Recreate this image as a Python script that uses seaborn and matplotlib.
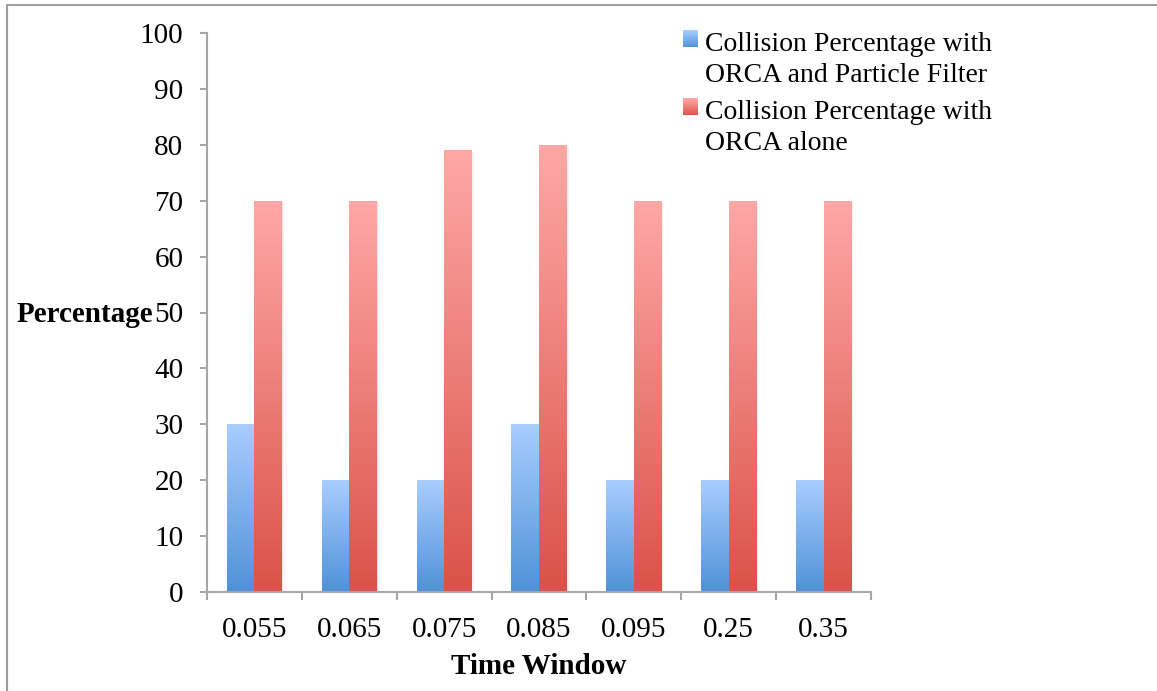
import numpy as np
import pandas as pd
import matplotlib
matplotlib.use("Agg")
import matplotlib.pyplot as plt
import seaborn as sns
from matplotlib.colors import LinearSegmentedColormap, to_rgb
from matplotlib.patches import Rectangle
from matplotlib.legend_handler import HandlerBase
from matplotlib.lines import Line2D
import matplotlib.patheffects as pe

# ---- data ----
categories = ["0.055", "0.065", "0.075", "0.085", "0.095", "0.25", "0.35"]
series_names = ["Collision Percentage with\nORCA and Particle Filter",
                "Collision Percentage with\nORCA alone"]
pf_values = [30, 20, 20, 30, 20, 20, 20]
orca_values = [70, 70, 79, 80, 70, 70, 70]
y_ticks = [0, 10, 20, 30, 40, 50, 60, 70, 80, 90, 100]

# gradient colours (top, bottom)
grads = [("#A9CDFF", "#4F92D8"), ("#FFA8A6", "#DA5249")]

df = pd.DataFrame({
    "Time Window": categories * 2,
    "value": pf_values + orca_values,
    "series": [series_names[0]] * len(categories) + [series_names[1]] * len(categories),
})

sns.set_theme(style="white")
plt.rcParams["font.family"] = ["Liberation Serif", "DejaVu Serif"]
plt.rcParams["text.color"] = "black"
plt.rcParams["axes.labelcolor"] = "black"
FS = 21
LFS = 20

W, H = 1157, 691
fig = plt.figure(figsize=(W / 100, H / 100), dpi=100)
ax = fig.add_axes([207 / W, 1 - 592 / H, (871 - 207) / W, (592 - 33) / H])

mid_cols = []
for t, b in grads:
    mid_cols.append(tuple((np.array(to_rgb(t)) + np.array(to_rgb(b))) / 2))

sns.barplot(data=df, x="Time Window", y="value", hue="series", order=categories,
            hue_order=series_names, palette=mid_cols, width=0.58, ax=ax,
            saturation=1, legend=False)

grad_arr = np.linspace(0, 1, 256).reshape(-1, 1)
for cont, (top, bot) in zip(ax.containers, grads):
    cmap = LinearSegmentedColormap.from_list("g", [bot, top])
    for p in cont.patches:
        x0, y0 = p.get_x(), p.get_y()
        w, h = p.get_width(), p.get_height()
        p.set_edgecolor("none")
        p.set_path_effects([
            pe.SimplePatchShadow(offset=(1.5, -1.0), shadow_rgbFace="#999999", alpha=0.12),
            pe.SimplePatchShadow(offset=(0.6, -0.4), shadow_rgbFace="#999999", alpha=0.12),
            pe.Normal()])
        im = ax.imshow(grad_arr, extent=[x0, x0 + w, y0, y0 + h], origin="lower",
                       aspect="auto", cmap=cmap, zorder=p.get_zorder() + 0.1,
                       interpolation="bilinear")
        im.set_clip_path(p)

ax.set_xlim(-0.5, len(categories) - 0.5)
ax.set_ylim(0, 100)
ax.set_yticks(y_ticks)
ax.set_yticklabels([str(v) for v in y_ticks], fontsize=FS)
ax.set_xticks(range(len(categories)))
ax.set_xticklabels(categories, fontsize=FS)
ax.set_xticks(np.arange(-0.5, len(categories), 1.0), minor=True)

spine_col = "#A6A6A6"
for s in ["top", "right"]:
    ax.spines[s].set_visible(False)
for s in ["left", "bottom"]:
    ax.spines[s].set_color(spine_col)
    ax.spines[s].set_linewidth(1.5)

ax.tick_params(axis="y", which="major", direction="out", length=5, width=1.5,
               color=spine_col, pad=12, left=True, labelcolor="black")
ax.tick_params(axis="x", which="major", length=0, pad=18, labelcolor="black")
ax.tick_params(axis="x", which="minor", direction="out", length=6, width=1.5,
               color=spine_col, bottom=True)

ax.set_ylabel("Percentage", fontsize=FS, fontweight="bold", rotation=0,
              ha="left", va="center", color="black")
ax.yaxis.set_label_coords((17 - 207) / (871 - 207), (592 - 315) / (592 - 33))
ax.set_xlabel("Time Window", fontsize=FS, fontweight="bold", va="center", color="black")
ax.xaxis.set_label_coords(0.5, (592 - 667) / (592 - 33))
ax.grid(False)


class GradHandler(HandlerBase):
    def __init__(self, top, bot, lift):
        super().__init__()
        self.top, self.bot = to_rgb(top), to_rgb(bot)
        self.lift = lift

    def create_artists(self, legend, orig_handle, xdescent, ydescent, width, height,
                       fontsize, trans):
        n = 20
        arts = []
        t, b = np.array(self.top), np.array(self.bot)
        for i in range(n):
            f = (i + 0.5) / n
            c = b + (t - b) * f
            r = Rectangle((-xdescent, -ydescent + self.lift + height * i / n), width,
                          height / n + 0.05, facecolor=c, edgecolor="none", transform=trans)
            arts.append(r)
        return arts


LIFT = 15.0
handles = [Rectangle((0, 0), 1, 1) for _ in series_names]
leg = fig.legend(handles, series_names, loc="upper left",
                 bbox_to_anchor=(658 / W, 1 - 7 / H), frameon=False, fontsize=LFS,
                 handlelength=0.55, handleheight=0.55, handletextpad=0.25,
                 labelspacing=0.45,
                 handler_map={handles[0]: GradHandler(*grads[0], LIFT),
                              handles[1]: GradHandler(*grads[1], LIFT)})
for t in leg.get_texts():
    t.set_linespacing(1.3)
    t.set_color("black")

# outer frame (top and left edges)
fig.add_artist(Line2D([7 / W, 1], [1 - 5 / H, 1 - 5 / H], color="#A0A0A0", lw=1.5,
                      transform=fig.transFigure))
fig.add_artist(Line2D([7 / W, 7 / W], [0, 1 - 5 / H], color="#A0A0A0", lw=1.5,
                      transform=fig.transFigure))

fig.savefig("out.png", dpi=100)
